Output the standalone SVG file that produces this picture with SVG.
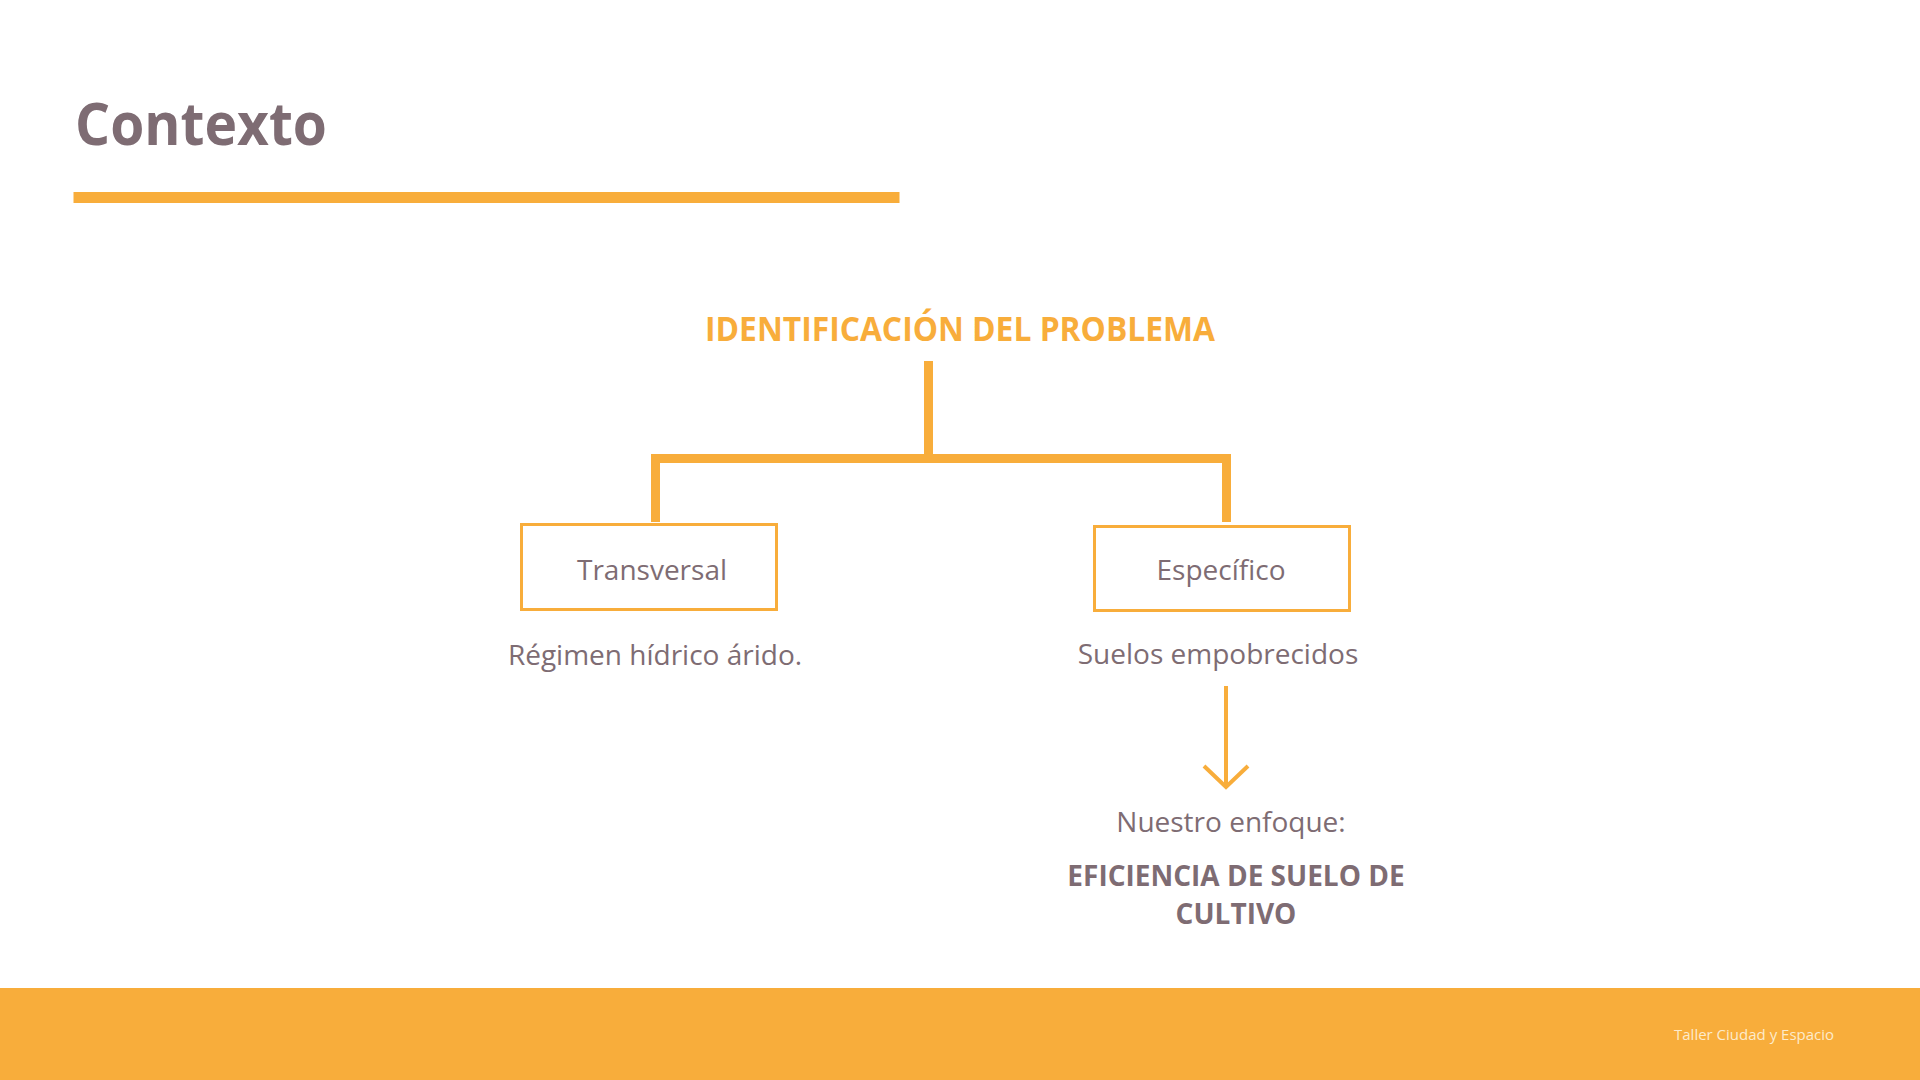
<svg xmlns="http://www.w3.org/2000/svg" width="1920" height="1080" viewBox="0 0 1920 1080">
<style>
.t{font-family:"Open Sans","Liberation Sans",sans-serif;fill:#7E6C73}
.b{font-weight:700}
.r{font-size:28px}
.ln{stroke:#F8AD3B;fill:none}
.box{fill:#FFFFFF;stroke:#F8AD3B;stroke-width:3}
</style>
<rect x="0" y="0" width="1920" height="1080" fill="#FFFFFF"/>
<g id="header">
<text class="t b" x="75" y="145" font-size="59" textLength="252" lengthAdjust="spacingAndGlyphs">Contexto</text>
<rect x="73.5" y="192" width="826" height="11" fill="#F8AD3B"/>
</g>
<g id="connectors">
<path class="ln" stroke-width="9" d="M928.5 361 V458.5 M655.5 522 V458.5 H1226.5 V522"/>
<path class="ln" stroke-width="4" d="M1226 686 V787 M1204 766 L1226 787 L1248 766"/>
</g>
<g id="root">
<text class="t b" x="960" y="341" font-size="34" text-anchor="middle" style="fill:#F8AD3B" textLength="510" lengthAdjust="spacingAndGlyphs">IDENTIFICACIÓN DEL PROBLEMA</text>
</g>
<g id="transversal">
<rect class="box" x="521.5" y="524.5" width="255" height="85"/>
<text class="t r" x="652" y="580" text-anchor="middle">Transversal</text>
</g>
<g id="especifico">
<rect class="box" x="1094.5" y="526.5" width="255" height="84"/>
<text class="t r" x="1221" y="580" text-anchor="middle">Específico</text>
</g>
<g id="regimen">
<text class="t r" x="655" y="665" text-anchor="middle">Régimen hídrico árido.</text>
</g>
<g id="suelos">
<text class="t r" x="1218" y="664" text-anchor="middle">Suelos empobrecidos</text>
</g>
<g id="enfoque">
<text class="t r" x="1231" y="832" text-anchor="middle">Nuestro enfoque:</text>
<text class="t b" x="1236" y="886" font-size="28" text-anchor="middle">EFICIENCIA DE SUELO DE</text>
<text class="t b" x="1236" y="924" font-size="28" text-anchor="middle">CULTIVO</text>
</g>
<g id="footer">
<rect x="0" y="988" width="1920" height="92" fill="#F8AD3B"/>
<text x="1674" y="1040" font-family="Open Sans, Liberation Sans, sans-serif" font-size="15" fill="#FDEBCB">Taller Ciudad y Espacio</text>
</g>
</svg>
